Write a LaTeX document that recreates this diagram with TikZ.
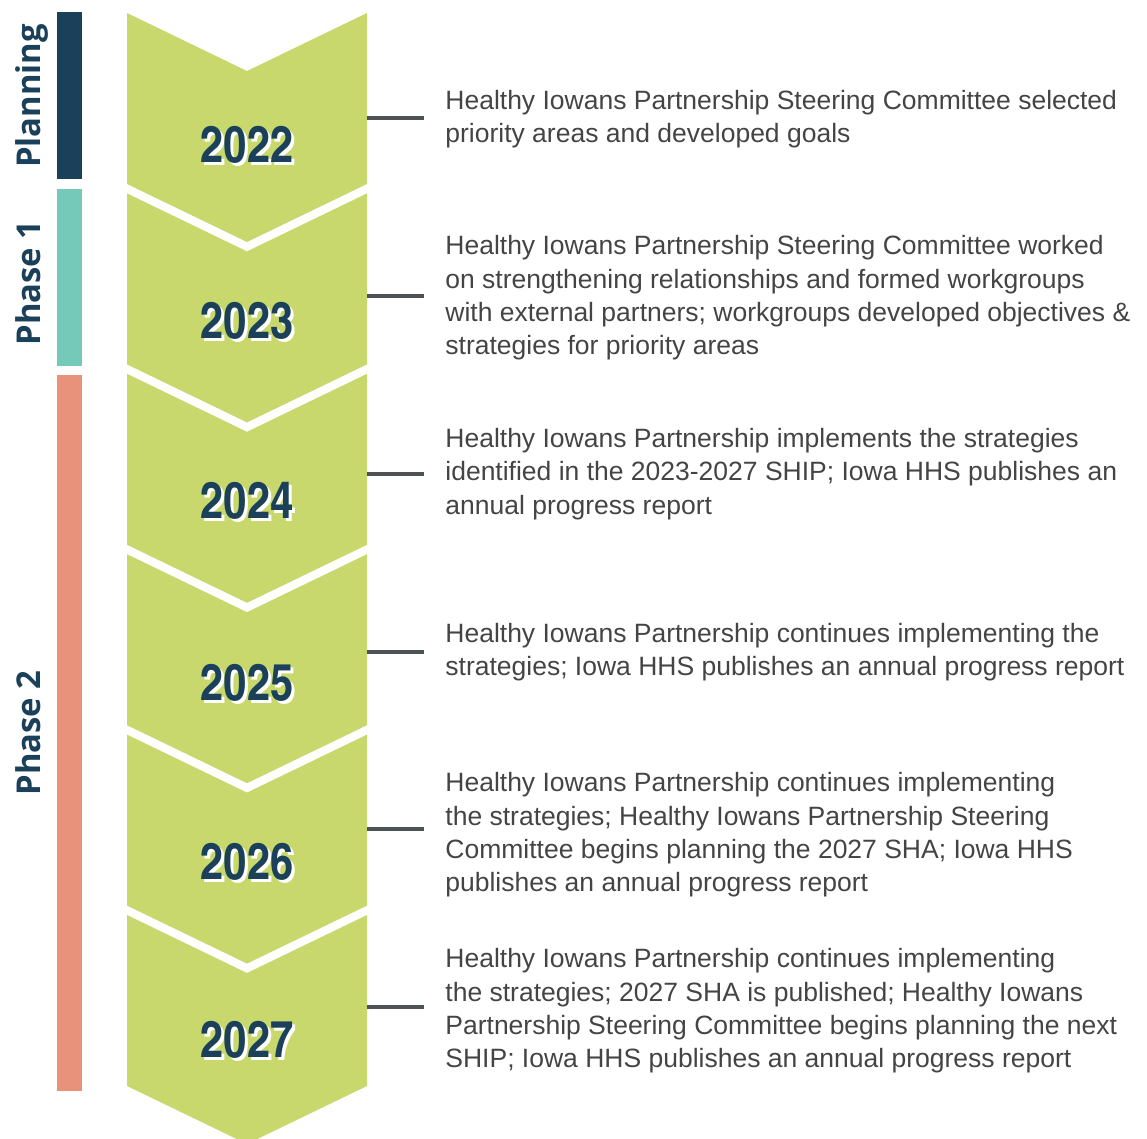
\documentclass[tikz,border=0pt]{standalone}
\usepackage{fontspec}
\setmainfont{Liberation Sans}
\newfontfamily\phasefont{Open Sans}
\newfontfamily\yearfont{texgyreheroscn-bold.otf}

\definecolor{navy}{HTML}{1A405A}
\definecolor{phaseteal}{HTML}{74C9B9}
\definecolor{phasesalmon}{HTML}{E8927C}
\definecolor{leaf}{HTML}{C8D86C}
\definecolor{inkgray}{HTML}{444444}
\definecolor{tickgray}{HTML}{4D5354}

\tikzset{
  yearlbl/.style={font=\yearfont\fontsize{25.5}{25.5}\selectfont, text=navy, inner sep=0pt},
  yearshadow/.style={yearlbl, text=white},
  phaselbl/.style={font=\phasefont\bfseries\fontsize{16.4}{16.4}\selectfont, text=navy, rotate=90, anchor=base, inner sep=0pt},
  note/.style={font=\fontsize{13.25}{16.65}\selectfont, text=inkgray, align=left, anchor=west, inner xsep=10.5pt, inner ysep=0pt},
  tick/.style={draw=tickgray, line width=2.2pt}
}

\begin{document}
\begin{tikzpicture}[x=0.5pt,y=-0.5pt]
	\useasboundingbox (0,0) rectangle (1147,1139);
	% phase bars on the left
	\fill[navy] (57,12) rectangle (82,179);
	\fill[phaseteal] (57,189) rectangle (82,366);
	\fill[phasesalmon] (57,375) rectangle (82,1091);
	\node[phaselbl] (planning) at (40,96) {Planning};
	\node[phaselbl] (phaseone) at (40,283) {Phase 1};
	\node[phaselbl] (phasetwo) at (40,733) {Phase 2};
	% stacked chevrons, one per year
	\foreach \t in {13,193.4,373.8,554.2,734.6,915}
		\fill[leaf] (127,\t) -- (247,\t+58) -- (367,\t) -- (367,\t+171) -- (247,\t+229) -- (127,\t+171) -- cycle;
	% years with a white drop shadow
	\foreach \yr/\yc in {2022/145,2023/321,2024/501,2025/683,2026/862,2027/1040}{
		\node[yearshadow] (s\yr) at (250,\yc+3) {\yr};
		\node[yearlbl] (y\yr) at (247,\yc) {\yr};
	}
	% notes and their ticks
	\node[note] (n2022) at (424,119) {Healthy Iowans Partnership Steering Committee selected\\priority areas and developed goals};
	\node[note] (n2023) at (424,298) {Healthy Iowans Partnership Steering Committee worked\\on strengthening relationships and formed workgroups\\with external partners; workgroups developed objectives \&\\strategies for priority areas};
	\node[note] (n2024) at (424,474) {Healthy Iowans Partnership implements the strategies\\identified in the 2023-2027 SHIP; Iowa HHS publishes an\\annual progress report};
	\node[note] (n2025) at (424,652) {Healthy Iowans Partnership continues implementing the\\strategies; Iowa HHS publishes an annual progress report};
	\node[note] (n2026) at (424,835) {Healthy Iowans Partnership continues implementing\\the strategies; Healthy Iowans Partnership Steering\\Committee begins planning the 2027 SHA; Iowa HHS\\publishes an annual progress report};
	\node[note] (n2027) at (424,1011) {Healthy Iowans Partnership continues implementing\\the strategies; 2027 SHA is published; Healthy Iowans\\Partnership Steering Committee begins planning the next\\SHIP; Iowa HHS publishes an annual progress report};
	\foreach \yr/\ty in {2022/118,2023/296,2024/474,2025/652,2026/829,2027/1007}{
		\coordinate (e\yr) at (367,\ty);% right edge of the chevron
		\draw[tick] (e\yr) -- (e\yr -| n\yr.west);
	}
\end{tikzpicture}
\end{document}
